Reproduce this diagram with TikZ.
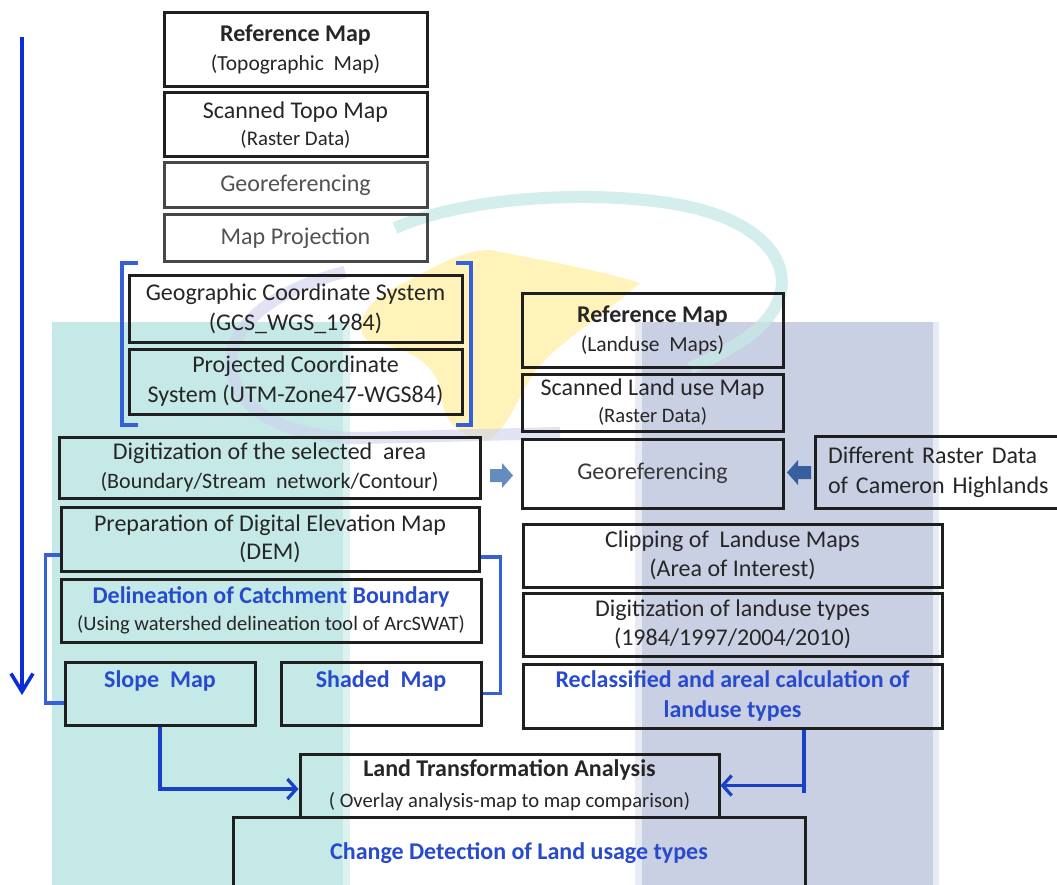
\documentclass[tikz,border=0pt]{standalone}
\usepackage{fontspec}
\setmainfont{Carlito}
\usetikzlibrary{arrows.meta}
\definecolor{bluetxt}{RGB}{40,75,205}
\definecolor{arrowblue}{RGB}{25,65,200}
\definecolor{bigblue}{RGB}{10,45,215}
\definecolor{brkblue}{RGB}{55,95,215}
\definecolor{wmteal}{RGB}{197,233,231}
\definecolor{wmteallight}{RGB}{220,242,241}
\definecolor{wmlav}{RGB}{201,208,227}
\definecolor{wmlavlight}{RGB}{232,235,243}
\definecolor{wmyel}{RGB}{255,243,185}
\definecolor{wmring}{RGB}{205,208,236}
\definecolor{blkA}{RGB}{100,140,190}
\definecolor{blkB}{RGB}{55,95,160}
\newcommand\fs[2]{\fontsize{#1}{#2}\selectfont}
\newcommand\fsz[1]{\fontsize{#1}{#1}\selectfont}
\tikzset{
  box/.style={draw=black!88, line width=3pt, rectangle, inner sep=0pt, align=center, text=black!85},
  gbox/.style={box, draw=black!72, text=black!68},
  brk/.style={draw=brkblue, line width=3.2pt},
  conn/.style={draw=arrowblue, line width=3.4pt, -{Straight Barb[length=9pt,width=20pt,line width=3.2pt]}},
  connline/.style={draw=arrowblue, line width=3.4pt},
  bigarrow/.style={draw=bigblue, line width=3.6pt, -{Straight Barb[length=18pt,width=22pt,line width=3.6pt]}}
}
\begin{document}
\begin{tikzpicture}[x=1pt,y=-1pt]
\useasboundingbox (0,0) rectangle (1057,885);
\clip (0,0) rectangle (1057,885);
\fill[white] (0,0) rectangle (1057,885);
% ---------- watermark ----------
\fill[wmyel] (490,250) .. controls (530,258) and (600,270) .. (640,283)
  .. controls (610,310) and (570,335) .. (545,360)
  .. controls (520,385) and (515,420) .. (490,440)
  .. controls (465,440) and (445,425) .. (442,400)
  .. controls (440,370) and (420,350) .. (370,342)
  .. controls (350,330) and (365,300) .. (400,285)
  .. controls (430,270) and (460,250) .. (490,250);
\fill[wmteal] (52,322) rectangle (343,885);
\fill[wmteallight] (343,322) rectangle (350,885);
\fill[wmlavlight] (635,322) rectangle (939,885);
\fill[wmlav] (642,322) rectangle (933,885);
\draw[wmteal, line width=12pt, opacity=0.75] (395,228) .. controls (470,195) and (600,190) .. (680,205)
  .. controls (760,220) and (790,260) .. (780,295) .. controls (770,330) and (730,350) .. (690,368);
\draw[wmring, line width=12pt, opacity=0.6] (345,272) .. controls (270,290) and (225,330) .. (232,370)
  .. controls (240,415) and (290,437) .. (360,438) -- (560,433);
% ---------- left column ----------
\node[box, minimum width=263pt, minimum height=74pt, font=\fs{24}{29}] (refT) at (295.5,50)
  {\textbf{Reference Map}\\{\fsz{21.5}(Topographic~~Map)}};
\node[box, minimum width=263pt, minimum height=64pt, font=\fs{24}{27}] (scanT) at (295.5,125)
  {Scanned Topo Map\\{\fsz{20.8}(Raster Data)}};
\node[gbox, minimum width=263pt, minimum height=45pt, font=\fs{24}{29}] (georefL) at (295.5,185.5) {Georeferencing};
\node[gbox, minimum width=263pt, minimum height=47pt, font=\fs{24}{29}] (mapproj) at (295.5,238.5) {Map Projection};
\node[box, minimum width=333pt, minimum height=66pt, font=\fs{24}{30}] (gcs) at (295.5,309)
  {Geographic Coordinate System\\(GCS\_WGS\_1984)};
\node[box, minimum width=333pt, minimum height=65pt, font=\fs{24}{30}] (pcs) at (295.5,381.5)
  {Projected Coordinate\\System (UTM-Zone47-WGS84)};
\draw[brk] (138,263) -- (122,263) -- (122,425) -- (138,425);
\draw[brk] (456,263) -- (471,263) -- (471,425) -- (456,425);
\node[box, minimum width=421pt, minimum height=61pt, font=\fs{24}{29}] (digit) at (269.5,467.5)
  {Digitization of the selected~~area\\{\fsz{22}(Boundary/Stream~~network/Contour)}};
\node[box, minimum width=418pt, minimum height=64pt, font=\fs{24}{28}] (dem) at (270,539)
  {Preparation of Digital Elevation Map\\(DEM)};
\node[box, minimum width=420pt, minimum height=63pt, font=\fs{24}{27}] (delin) at (271,610.5)
  {\textcolor{bluetxt}{\textbf{Delineation of Catchment Boundary}}\\{\fsz{20.5}(Using watershed delineation tool of ArcSWAT)}};
\node[box, minimum width=190pt, minimum height=63pt, font=\fs{24}{27}\bfseries, text=bluetxt] (slope) at (160,693.5)
  {Slope~~Map\\[2pt]\mbox{}};
\node[box, minimum width=200pt, minimum height=63pt, font=\fs{24}{27}\bfseries, text=bluetxt] (shaded) at (381,693.5)
  {Shaded~~Map\\[2pt]\mbox{}};
\draw[brk] ([yshift=-16pt]dem.west) -- ++(-14,0) |- ([yshift=-9.5pt]slope.west);
\draw[brk] ([yshift=-18pt]dem.east) -- ++(20,0) |- (shaded.east);
% ---------- right column ----------
\node[box, minimum width=261pt, minimum height=74pt, font=\fs{24}{29}] (refL) at (652.5,330)
  {\textbf{Reference Map}\\{\fsz{21.5}(Landuse~~Maps)}};
\node[box, minimum width=261pt, minimum height=57pt, font=\fs{24}{27}] (scanL) at (652.5,402.5)
  {Scanned Land use Map\\{\fsz{20.6}(Raster Data)}};
\node[box, minimum width=261pt, minimum height=69pt, font=\fs{24}{29}, text=black!78] (georefR) at (652.5,473.5) {Georeferencing};
\node[box, minimum width=250pt, minimum height=72pt, font=\fs{24}{30}, align=left, text width=224pt] (diff) at (940,472)
  {Different Raster Data\\of Cameron Highlands};
\node[box, minimum width=419pt, minimum height=63pt, font=\fs{24}{29}] (clip) at (732.5,555.5)
  {Clipping of~~Landuse Maps\\(Area of Interest)};
\node[box, minimum width=419pt, minimum height=63pt, font=\fs{24}{29}] (digitL) at (732.5,624.5)
  {Digitization of landuse types\\(1984/1997/2004/2010)};
\node[box, minimum width=419pt, minimum height=64pt, font=\fs{24}{30}\bfseries, text=bluetxt] (reclass) at (732.5,696)
  {Reclassified and areal calculation of\\landuse types};
% block arrows
\fill[blkA] (490,469) -- (502,469) -- (502,463) -- (513,475.5) -- (502,488) -- (502,482) -- (490,482) -- cycle;
\fill[blkB] (787,472.5) -- (798,460) -- (798,466) -- (811,466) -- (811,479) -- (798,479) -- (798,485) -- cycle;
% ---------- bottom ----------
\node[box, minimum width=419pt, minimum height=63pt, font=\fs{24}{31}] (lta) at (509.5,785.5)
  {\textbf{Land Transformation Analysis}\\{\fsz{20.6}( Overlay analysis-map to map comparison)}};
\node[box, minimum width=572pt, minimum height=72pt, font=\fs{24}{29}\bfseries, text=bluetxt] (change) at (519,853)
  {Change Detection of Land usage types};
% connectors
\draw[conn] (slope.south) |- ([yshift=-3.5pt]lta.west);
\coordinate (rc) at ([xshift=71.5pt]reclass.south);
\draw[connline] (rc) -- ++(0,63);
\draw[conn] (rc |- lta.east) -- (lta.east);
% big arrow
\coordinate (atop) at (22,37);
\coordinate (abot) at (22,695);
\draw[bigarrow] (atop) -- (abot);
\end{tikzpicture}
\end{document}
